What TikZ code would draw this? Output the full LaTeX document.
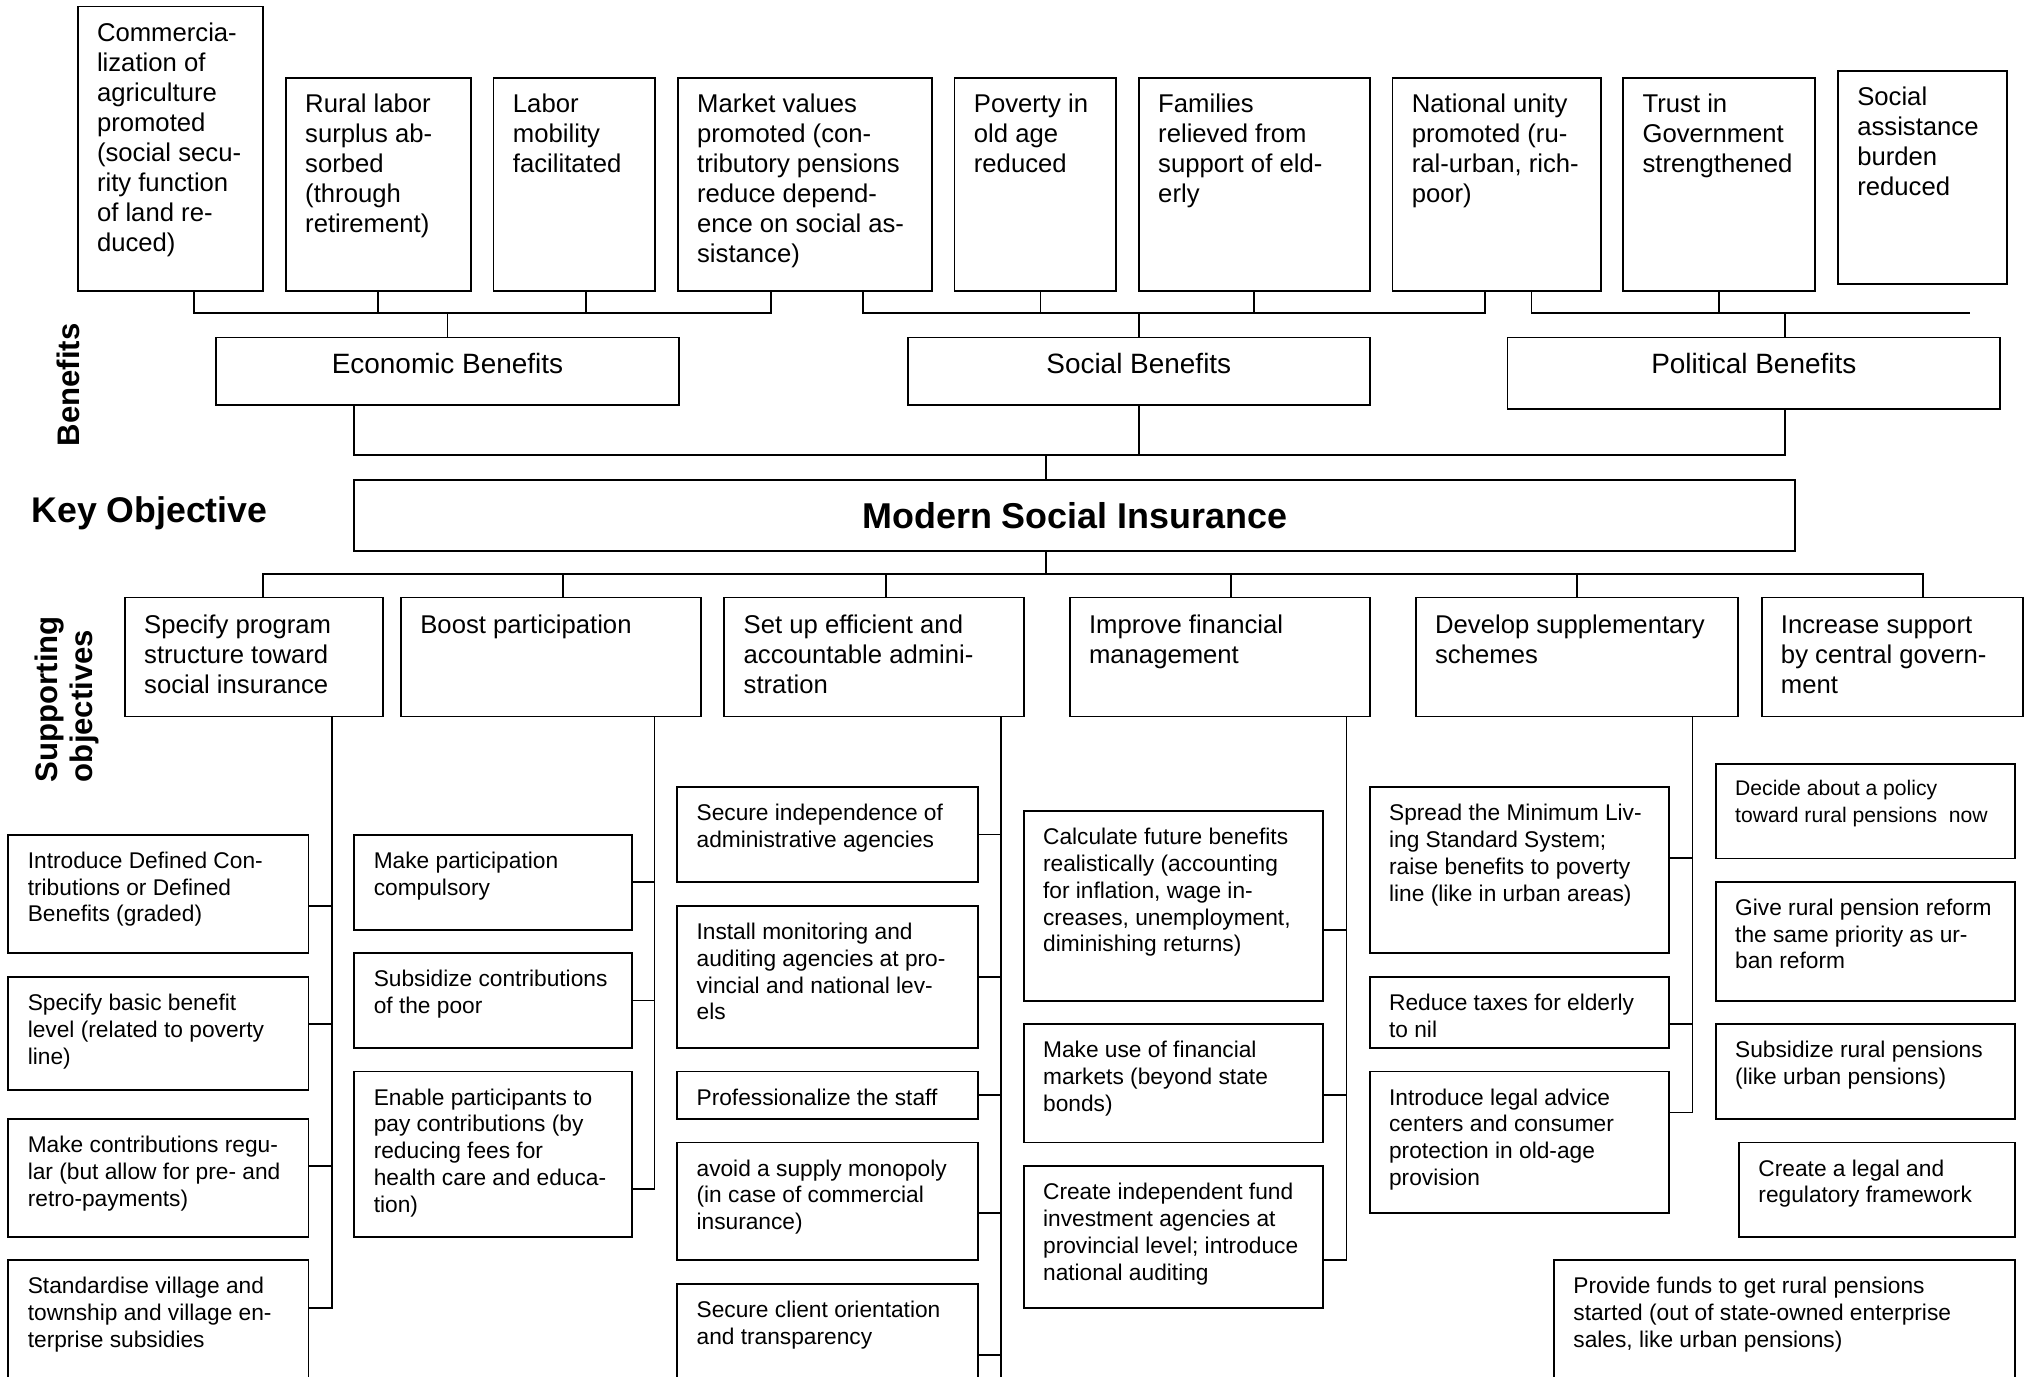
\documentclass[tikz,border=0pt]{standalone}
\usepackage{fontspec}
\setmainfont{Liberation Sans}
\newlength\px
\setlength\px{0.02cm}
% box text: width, height, first baseline (px), text
\newcommand\boxtext[4]{\parbox[c][#2\px][t]{\dimexpr#1\px-30\px\relax}{\raggedright\rule{0pt}{#3\px}#4}}
\newcommand\headtext[3]{\parbox[c][#2\px][t]{#1\px}{\centering\rule{0pt}{28\px}#3}}
\tikzset{
  boxed/.style={draw, line width=0.8pt, anchor=north west, inner xsep=15\px, inner ysep=0pt, outer sep=0pt},
  itembox/.style={boxed, font=\fontsize{11.3}{13.2}\selectfont},
  groupbox/.style={boxed, inner xsep=0pt, font=\fontsize{12.3}{14}\selectfont},
  measurebox/.style={boxed, font=\fontsize{10}{11.8}\selectfont},
  sidehead/.style={inner sep=0pt, font=\bfseries\fontsize{13.7}{15.5}\selectfont},
  link/.style={line width=0.8pt}
}
\begin{document}
\begin{tikzpicture}[x=0.02cm, y=-0.02cm]
\useasboundingbox (0,0) rectangle (1568,1064);
\clip (0,0) rectangle (1568,1064);

% benefits
\node[itembox] (t1) at (60,5) {\boxtext{143.5}{220}{27}{Commercia-\\lization of\\agriculture\\promoted\\(social secu-\\rity function\\of land re-\\duced)}};
\node[itembox] (t2) at (221,60) {\boxtext{143}{165}{27}{Rural labor\\surplus ab-\\sorbed\\(through\\retirement)}};
\node[itembox] (t3) at (381.6,60) {\boxtext{125}{165}{27}{Labor\\mobility\\facilitated}};
\node[itembox] (t4) at (524,60) {\boxtext{196.7}{165}{27}{Market values\\promoted (con-\\tributory pensions\\reduce depend-\\ence on social as-\\sistance)}};
\node[itembox] (t5) at (738,60) {\boxtext{125}{165}{27}{Poverty in\\old age\\reduced}};
\node[itembox] (t6) at (880.5,60) {\boxtext{178.5}{165}{27}{Families\\relieved from\\support of eld-\\erly}};
\node[itembox] (t7) at (1076.6,60) {\boxtext{161}{165}{27}{National unity\\promoted (ru-\\ral-urban, rich-\\poor)}};
\node[itembox] (t8) at (1255,60) {\boxtext{148}{165}{27}{Trust in\\Government\\strengthened}};
\node[itembox] (t9) at (1421,54.6) {\boxtext{130.7}{165}{27}{Social\\assistance\\burden\\reduced}};

\node[groupbox] (econ) at (167,261) {\headtext{358}{52}{Economic Benefits}};
\node[groupbox] (social) at (702,261) {\headtext{357}{52}{Social Benefits}};
\node[groupbox] (polit) at (1165.5,261) {\headtext{381}{55}{Political Benefits}};

\draw[link] ([xshift=18.5\px]t1.south) -- ++(0,17) -| ([xshift=-26.3\px]t4.south);
\draw[link] (t2.south) -- ++(0,17);
\draw[link] ([xshift=9\px]t3.south) -- ++(0,17);
\draw[link] (econ.north) -- ++(0,-19);
\draw[link] ([xshift=44.6\px]t4.south) -- ++(0,17) -| ([xshift=-9\px]t7.south);
\draw[link] ([xshift=4\px]t5.south) -- ++(0,17);
\draw[link] (t6.south) -- ++(0,17);
\draw[link] (social.north) -- ++(0,-19);
\draw[link] ([xshift=27\px]t7.south) -- ++(0,17) -- ++(339,0) coordinate (polend);
\draw[link] (t8.south) -- ++(0,17);
\draw[link] ([xshift=24\px]polit.north) -- ++(0,-19);

% key objective
\node[boxed, inner xsep=0pt, minimum width=1114\px, minimum height=55\px, font=\bfseries\fontsize{15.8}{18}\selectfont] (msi) at (274,371) {Modern Social Insurance};
\draw[link] ([xshift=-72\px]econ.south) -- ++(0,39) -| ([xshift=24\px]polit.south);
\draw[link] (social.south) -- ++(0,39);
\draw[link] ([xshift=-22\px]msi.north) -- ++(0,-19);

\node[sidehead, rotate=90] (benlab) at (53,297.5) {Benefits};
\node[sidehead, font=\bfseries\fontsize{15.7}{18}\selectfont, anchor=west] (keylab) at (24,397) {Key Objective};
\node[sidehead, rotate=90, anchor=west, align=left] (suplab) at (51.5,605) {Supporting\\objectives};

% supporting objectives
\node[itembox] (s1) at (96.5,462) {\boxtext{199.5}{92}{28}{Specify program\\structure toward\\social insurance}};
\node[itembox] (s2) at (310,462) {\boxtext{232}{92}{28}{Boost participation}};
\node[itembox] (s3) at (560,462) {\boxtext{231.5}{92}{28}{Set up efficient and\\accountable admini-\\stration}};
\node[itembox] (s4) at (827,462) {\boxtext{232}{92}{28}{Improve financial\\management}};
\node[itembox] (s5) at (1094.6,462) {\boxtext{249.4}{92}{28}{Develop supplementary\\schemes}};
\node[itembox] (s6) at (1362,462) {\boxtext{202}{92}{28}{Increase support\\by central govern-\\ment}};

\draw[link] ([xshift=-22\px]msi.south) -- ++(0,18);
\draw[link] ([xshift=7\px]s1.north) -- ++(0,-18) -| ([xshift=24\px]s6.north);
\draw[link] ([xshift=9\px]s2.north) -- ++(0,-18);
\draw[link] ([xshift=9\px]s3.north) -- ++(0,-18);
\draw[link] ([xshift=9\px]s4.north) -- ++(0,-18);
\draw[link] (s5.north) -- ++(0,-18);

\coordinate (sp1) at ([xshift=-39.5\px]s1.south east);
\coordinate (sp2) at ([xshift=-36\px]s2.south east);
\coordinate (sp3) at ([xshift=-17.3\px]s3.south east);
\coordinate (sp4) at ([xshift=-18\px]s4.south east);
\coordinate (sp5) at ([xshift=-35.4\px]s5.south east);

% measures
\node[measurebox] (a1) at (6.5,645.3) {\boxtext{232}{91.4}{26}{Introduce Defined Con-\\tributions or Defined\\Benefits (graded)}};
\node[measurebox] (a2) at (6.5,755.2) {\boxtext{232}{87.6}{26}{Specify basic benefit\\level (related to poverty\\line)}};
\node[measurebox] (a3) at (6.5,865.1) {\boxtext{232}{91.3}{26}{Make contributions regu-\\lar (but allow for pre- and\\retro-payments)}};
\node[measurebox] (a4) at (6.5,974.3) {\boxtext{232}{110}{26}{Standardise village and\\township and village en-\\terprise subsidies}};

\node[measurebox] (b1) at (274,645.3) {\boxtext{214.6}{73.6}{26}{Make participation\\compulsory}};
\node[measurebox] (b2) at (274,736.7) {\boxtext{214.6}{73.6}{26}{Subsidize contributions\\of the poor}};
\node[measurebox] (b3) at (274,828.4) {\boxtext{214.6}{128}{26}{Enable participants to\\pay contributions (by\\reducing fees for\\health care and educa-\\tion)}};

\node[measurebox] (c1) at (523.6,608.6) {\boxtext{232.6}{73.1}{26}{Secure independence of\\administrative agencies}};
\node[measurebox] (c2) at (523.6,700.3) {\boxtext{232.6}{110}{26}{Install monitoring and\\auditing agencies at pro-\\vincial and national lev-\\els}};
\node[measurebox] (c3) at (523.6,828.4) {\boxtext{232.6}{36.7}{26}{Professionalize the staff}};
\node[measurebox] (c4) at (523.6,883.3) {\boxtext{232.6}{91}{26}{avoid a supply monopoly\\(in case of commercial\\insurance)}};
\node[measurebox] (c5) at (523.6,992.8) {\boxtext{232.6}{100}{26}{Secure client orientation\\and transparency}};

\node[measurebox] (d1) at (791.5,627.1) {\boxtext{231.5}{146.6}{26}{Calculate future benefits\\realistically (accounting\\for inflation, wage in-\\creases, unemployment,\\diminishing returns)}};
\node[measurebox] (d2) at (791.5,791.9) {\boxtext{231.5}{91.4}{26}{Make use of financial\\markets (beyond state\\bonds)}};
\node[measurebox] (d3) at (791.5,901.5) {\boxtext{231.5}{109.5}{26}{Create independent fund\\investment agencies at\\provincial level; introduce\\national auditing}};

\node[measurebox] (e1) at (1059,608.6) {\boxtext{231.6}{128.1}{26}{Spread the Minimum Liv-\\ing Standard System;\\raise benefits to poverty\\line (like in urban areas)}};
\node[measurebox] (e2) at (1059,755.2) {\boxtext{231.6}{55.1}{26}{Reduce taxes for elderly\\to nil}};
\node[measurebox] (e3) at (1059,828.4) {\boxtext{231.6}{109.5}{26}{Introduce legal advice\\centers and consumer\\protection in old-age\\provision}};

\node[measurebox, font=\fontsize{9.3}{11.6}\selectfont] (f1) at (1326.6,590.7) {\boxtext{231.6}{73.1}{24.5}{Decide about a policy\\toward rural pensions\ \ now}};
\node[measurebox] (f2) at (1326.6,681.7) {\boxtext{231.6}{92}{26}{Give rural pension reform\\the same priority as ur-\\ban reform}};
\node[measurebox] (f3) at (1326.6,791.9) {\boxtext{231.6}{73.2}{26}{Subsidize rural pensions\\(like urban pensions)}};
\node[measurebox] (f4) at (1344.6,883.3) {\boxtext{213.6}{73.1}{26}{Create a legal and\\regulatory framework}};
\node[measurebox] (f5) at (1201.5,974.3) {\boxtext{356.7}{110}{26}{Provide funds to get rural pensions\\started (out of state-owned enterprise\\sales, like urban pensions)}};

\draw[link] ([yshift=-9.3\px]a1.east) -| (sp1);
\draw[link] ([yshift=7.4\px]a2.east) -| (sp1);
\draw[link] ([yshift=9.5\px]a3.east) -| (sp1);
\draw[link] ([yshift=18\px]a4.east) -| (sp1);

\draw[link] (b1.east) -| (sp2);
\draw[link] (b2.east) -| (sp2);
\draw[link] ([yshift=-27\px]b3.east) -| (sp2);

\draw[link] (c1.east) -| (sp3);
\draw[link] (c2.east) -| (sp3);
\draw[link] (c3.east) -| (sp3);
\draw[link] ([yshift=-9\px]c4.east) -| (sp3);
\draw[link] ([yshift=-5\px]c5.east) -| (sp3);
\draw[link] (sp3) -- ++(0,520);

\draw[link] ([yshift=-18.4\px]d1.east) -| (sp4);
\draw[link] ([yshift=-9\px]d2.east) -| (sp4);
\draw[link] ([yshift=-18\px]d3.east) -| (sp4);

\draw[link] ([yshift=9.4\px]e1.east) -| (sp5);
\draw[link] ([yshift=-9\px]e2.east) -| (sp5);
\draw[link] ([yshift=23\px]e3.east) -| (sp5);
\end{tikzpicture}
\end{document}
